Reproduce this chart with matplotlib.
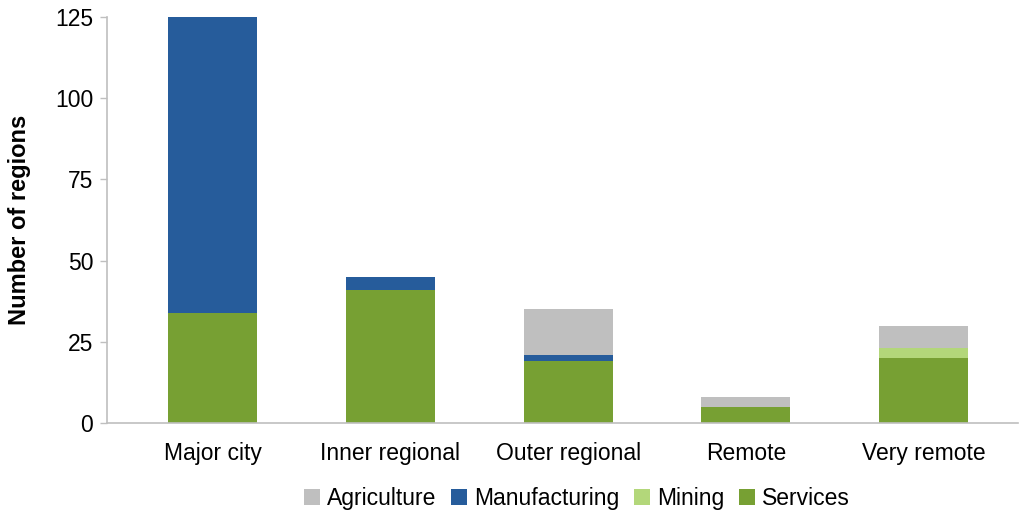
import numpy as np
import matplotlib.pyplot as plt

plt.rcParams['font.family'] = ['Liberation Sans', 'DejaVu Sans']

categories = ['Major city', 'Inner regional', 'Outer regional', 'Remote', 'Very remote']
services = [34, 41, 19, 5, 20]
mining = [0, 0, 0, 0, 3]
manufacturing = [91, 4, 2, 0, 0]
agriculture = [0, 0, 14, 3, 7]

colours = {
    'Agriculture': '#BFBFBF',
    'Manufacturing': '#265C9B',
    'Mining': '#B3D77A',
    'Services': '#77A033',
}

fig = plt.figure(figsize=(10.2, 5.13), dpi=100)
ax = fig.add_axes([0.105, 0.1754, 0.893, 0.7916])

x = np.arange(len(categories))
width = 0.5
bottom = np.zeros(len(categories))
handles = {}
for name, vals in [('Services', services), ('Mining', mining),
                   ('Manufacturing', manufacturing), ('Agriculture', agriculture)]:
    vals = np.array(vals, dtype=float)
    handles[name] = ax.bar(x, vals, width, bottom=bottom, color=colours[name],
                           label=name, zorder=2)
    bottom += vals

ax.set_xlim(-0.593, 4.53)
ax.set_ylim(0, 125)
ax.set_yticks([0, 25, 50, 75, 100, 125])
ax.set_xticks(x)
ax.set_xticklabels(categories)
ax.tick_params(axis='x', length=0, labelsize=16.5, pad=14, colors='black')
ax.tick_params(axis='y', length=5, width=1, color='#BFBFBF', labelsize=16.5, pad=5)

for side in ['top', 'right']:
    ax.spines[side].set_visible(False)
for side in ['left', 'bottom']:
    ax.spines[side].set_color('#BFBFBF')
    ax.spines[side].set_linewidth(1.2)

ax.set_ylabel('Number of regions', fontsize=17, fontweight='bold', labelpad=17)

order = ['Agriculture', 'Manufacturing', 'Mining', 'Services']
fig.legend([handles[n] for n in order], order, loc='center',
           bbox_to_anchor=(0.5655, 0.028), ncol=4, frameon=False, fontsize=16.5,
           handlelength=0.7, handleheight=0.7, handletextpad=0.3, columnspacing=0.65)

fig.savefig('out.png', dpi=100)
